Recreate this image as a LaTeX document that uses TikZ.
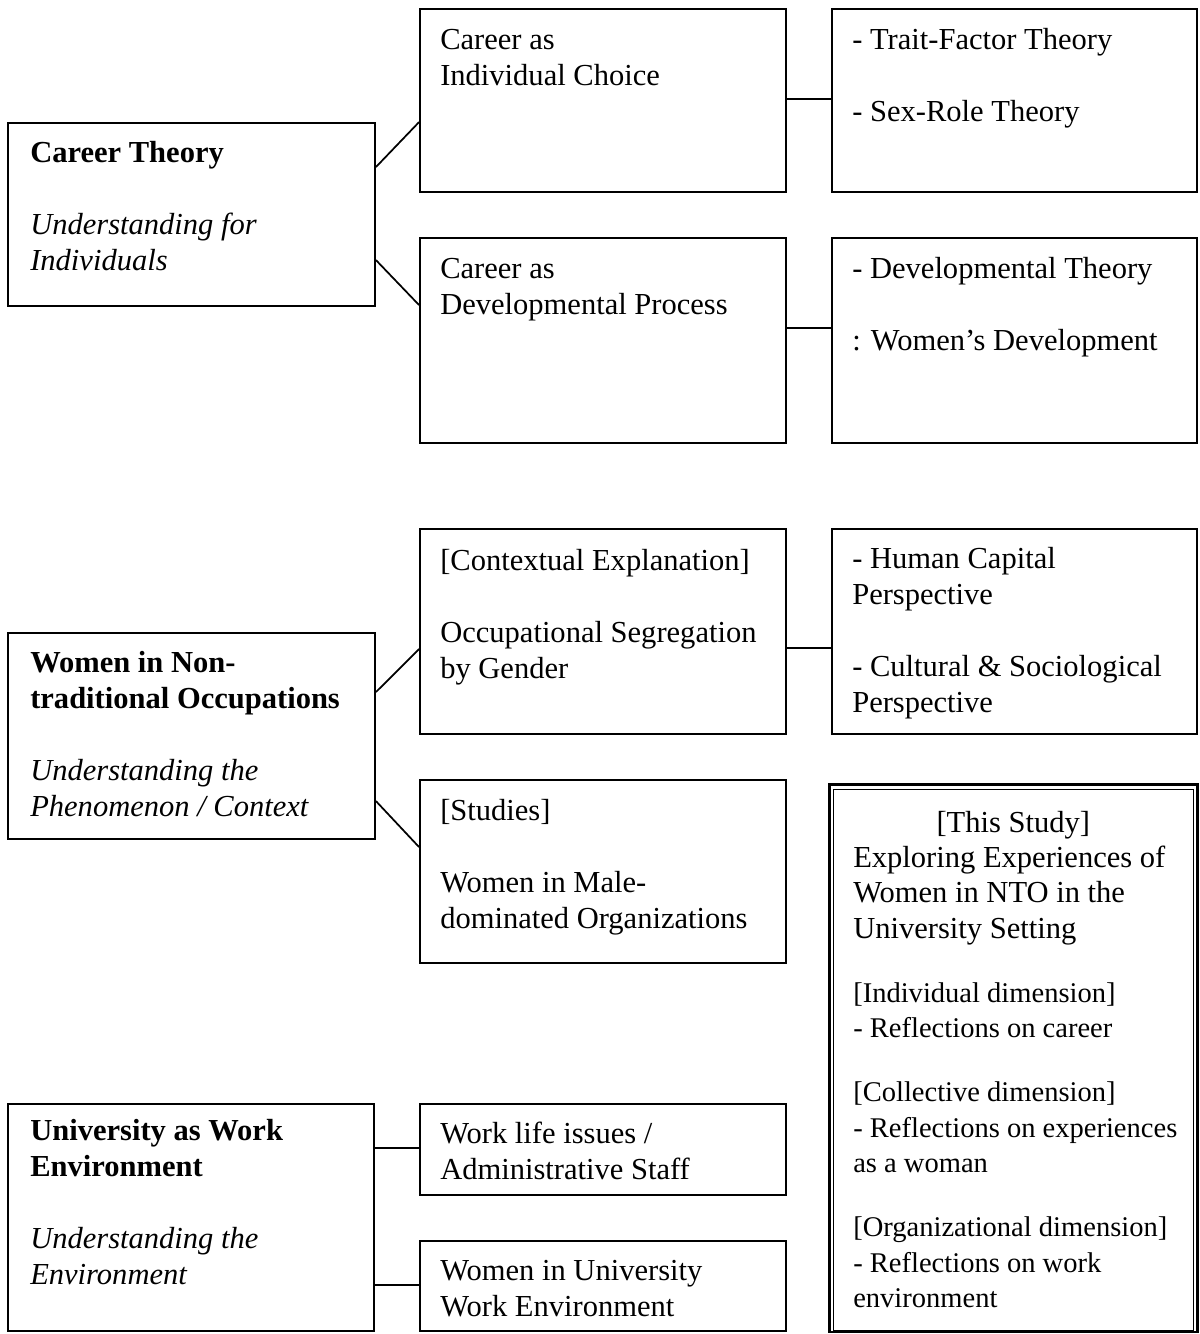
\documentclass[tikz,border=0pt]{standalone}
\usepackage{fontspec}
\setmainfont{Liberation Serif}
\usetikzlibrary{fit,calc}
\newcommand\myblank{\\[\baselineskip]}
\newcommand\mygap{\\[21.4pt]}
\newcommand\bxt[2]{\parbox[t]{330pt}{\fontsize{22.9pt}{#1}\selectfont #2}}
\newcommand\smallpart{\fontsize{21.4pt}{26.6pt}\selectfont}
\begin{document}
\begin{tikzpicture}[x=0.75pt,y=-0.75pt,
  box/.style={draw, line width=1.4pt, inner sep=0pt},
  link/.style={line width=1.3pt},
  txt/.style={anchor=base west, inner sep=0pt}]
\useasboundingbox (0,0) rectangle (1199,1334);
% boxes
\node[box, fit={(8,123) (375,306)}] (A) {};
\node[box, fit={(420,9) (786,192)}] (B) {};
\node[box, fit={(832,9) (1197,192)}] (C) {};
\node[box, fit={(420,238) (786,443)}] (D) {};
\node[box, fit={(832,238) (1197,443)}] (E) {};
\node[box, fit={(8,633) (375,839)}] (F) {};
\node[box, fit={(420,529) (786,734)}] (G) {};
\node[box, fit={(832,529) (1197,734)}] (H) {};
\node[box, fit={(420,780) (786,963)}] (I) {};
\node[box, fit={(8,1104) (374,1331)}] (J) {};
\node[box, fit={(420,1104) (786,1195)}] (K) {};
\node[box, fit={(420,1241) (786,1331)}] (L) {};
\node[box, line width=2.2pt, fit={(829.5,784.5) (1197.5,1332)}] (M) {};
\draw[line width=1pt] ($(M.north west)+(5.5,6.5)$) rectangle ($(M.south east)+(-5.5,-3)$);
% texts
\node[txt] (At) at (30,163) {\bxt{27pt}{\textbf{Career Theory}\myblank\textit{Understanding for}\\\textit{Individuals}}};
\node[txt] (Bt) at (440,50) {\bxt{27pt}{Career as\\Individual Choice}};
\node[txt] (Ct) at (852,50) {\bxt{27pt}{- Trait-Factor Theory\myblank- Sex-Role Theory}};
\node[txt] (Dt) at (440,278) {\bxt{27pt}{Career as\\Developmental Process}};
\node[txt] (Et) at (852,278) {\bxt{27pt}{- Developmental Theory\myblank: Women’s Development}};
\node[txt] (Ft) at (30,672) {\bxt{27pt}{\textbf{Women in Non-}\\\textbf{traditional Occupations}\myblank\textit{Understanding the}\\\textit{Phenomenon / Context}}};
\node[txt] (Gt) at (440,570) {\bxt{27pt}{[Contextual Explanation]\myblank Occupational Segregation\\by Gender}};
\node[txt] (Ht) at (852,568) {\bxt{27pt}{- Human Capital\\Perspective\myblank- Cultural \& Sociological\\Perspective}};
\node[txt] (It) at (440,820) {\bxt{27pt}{[Studies]\myblank Women in Male-\\dominated Organizations}};
\node[txt] (Jt) at (30,1140) {\bxt{27pt}{\textbf{University as Work}\\\textbf{Environment}\myblank\textit{Understanding the}\\\textit{Environment}}};
\node[txt] (Kt) at (440,1143) {\bxt{27pt}{Work life issues /\\Administrative Staff}};
\node[txt] (Lt) at (440,1280) {\bxt{27pt}{Women in University\\Work Environment}};
\node[txt] (Mt) at (853,832) {\bxt{26.6pt}{\makebox[240pt][c]{[This Study]}\\Exploring Experiences of\\Women in NTO in the\\University Setting\mygap{\smallpart[Individual dimension]\\- Reflections on career\mygap[Collective dimension]\\- Reflections on experiences\\as a woman\mygap[Organizational dimension]\\- Reflections on work\\environment}}};
% connectors
\draw[link] ($(A.north east)+(0,45)$) -- ($(B.north west)+(0,114)$);
\draw[link] ($(A.north east)+(0,138)$) -- ($(D.north west)+(0,68)$);
\draw[link] ($(B.north east)+(0,91)$) -- ($(C.north west)+(0,91)$);
\draw[link] ($(D.north east)+(0,91)$) -- ($(E.north west)+(0,91)$);
\draw[link] ($(F.north east)+(0,60)$) -- ($(G.north west)+(0,121)$);
\draw[link] ($(F.north east)+(0,169)$) -- ($(I.north west)+(0,68)$);
\draw[link] ($(G.north east)+(0,120)$) -- ($(H.north west)+(0,120)$);
\draw[link] ($(J.north east)+(0,45)$) -- ($(K.north west)+(0,45)$);
\draw[link] ($(J.north east)+(0,182)$) -- ($(L.north west)+(0,45)$);
\end{tikzpicture}
\end{document}
